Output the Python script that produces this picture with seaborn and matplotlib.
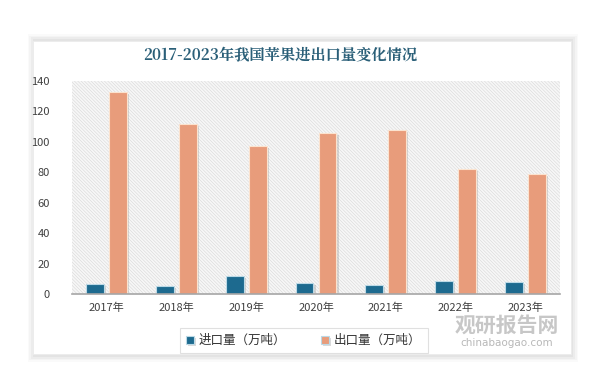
import pandas as pd
import seaborn as sns
import matplotlib.pyplot as plt
from matplotlib.patches import Rectangle
import matplotlib.patheffects as pe

# data
years = ['2017年', '2018年', '2019年', '2020年', '2021年', '2022年', '2023年']
imports = [6.6, 5.5, 12.0, 7.0, 6.2, 8.8, 7.7]
exports = [133, 112, 97.5, 106, 108, 82, 79]
series_names = ['进口量（万吨）', '出口量（万吨）']
y_ticks = [0, 20, 40, 60, 80, 100, 120, 140]

sns.set_style('white')
plt.rcParams['font.family'] = ['Noto Sans CJK SC', 'DejaVu Sans']
plt.rcParams['hatch.linewidth'] = 0.45

df = pd.DataFrame({'year': years * 2,
                   'value': imports + exports,
                   'series': [series_names[0]] * len(years) + [series_names[1]] * len(years)})

fig = plt.figure(figsize=(6, 3.87), dpi=100)

# white card with a soft shadow
for i, a in enumerate([0.035, 0.03, 0.025, 0.02]):
    fig.patches.append(Rectangle((33 / 600 - i * 0.003, 1 - 357 / 387 - i * 0.004),
                                 540 / 600 + i * 0.006, 318 / 387 + i * 0.008,
                                 transform=fig.transFigure, facecolor='#000000', alpha=a,
                                 edgecolor='none', zorder=0))
fig.patches.append(Rectangle((33 / 600, 1 - 354 / 387), 538 / 600, 313 / 387,
                             transform=fig.transFigure, facecolor='white', edgecolor='#ececec',
                             linewidth=0.6, zorder=1))

ax = fig.add_axes([72 / 600, 1 - 294 / 387, 488 / 600, 213 / 387])
ax.set_facecolor('none')
ax.set_zorder(2)

palette = {series_names[0]: '#1d6a8f', series_names[1]: '#e89c7b'}
sns.barplot(data=df, x='year', y='value', hue='series', palette=palette, ax=ax,
            width=0.66, gap=0.22, saturation=1, legend=True, zorder=3)

for bar in ax.patches:
    if bar.get_height() > 50:
        bar.set_edgecolor('#fbe3cf')
    else:
        bar.set_edgecolor('#bcd9e6')
    bar.set_linewidth(0.8)
    bar.set_path_effects([pe.SimplePatchShadow(offset=(1.5, -1.5), shadow_rgbFace='#999999', alpha=0.35),
                          pe.Normal()])

# hatched plot background
ax.add_patch(Rectangle((0, 0), 1, 1, transform=ax.transAxes, facecolor='#f7f7f7',
                       hatch='\\\\\\\\\\\\\\\\\\\\', edgecolor='#dadada', linewidth=0, zorder=0))

ax.set_ylim(0, 140)
ax.set_yticks(y_ticks)
ax.set_xlim(-0.5, len(years) - 0.5)
ax.set_xlabel('')
ax.set_ylabel('')
for s in ['top', 'right', 'left']:
    ax.spines[s].set_visible(False)
ax.spines['bottom'].set_color('#a6a6a6')
ax.spines['bottom'].set_linewidth(1.2)
ax.spines['bottom'].set_zorder(4)
ax.tick_params(axis='both', length=0, labelsize=8, colors='#404040', pad=6)
ax.tick_params(axis='y', pad=16)

leg = ax.legend(loc='upper center', bbox_to_anchor=(0.475, -0.13), ncol=2, frameon=True,
                fontsize=9, handlelength=0.6, handleheight=0.6, handletextpad=0.4,
                columnspacing=2.8, borderpad=0.5, fancybox=False)
leg.get_frame().set_edgecolor('#d9d9d9')
leg.get_frame().set_linewidth(0.8)
for t in leg.get_texts():
    t.set_color('#333333')

fig.text(0.467, 1 - 56 / 387, '2017-2023年我国苹果进出口量变化情况', ha='center', va='center',
         fontsize=11, fontweight='bold', color='#2a5f78',
         family=['Noto Serif CJK SC', 'Noto Sans CJK SC', 'DejaVu Serif'])

# watermark
fig.text(0.845, 1 - 325 / 387, '观研报告网', ha='center', va='center', fontsize=15,
         fontweight='bold', color='#9a9a9a', alpha=0.55, zorder=5)
fig.text(0.845, 1 - 343 / 387, 'chinabaogao.com', ha='center', va='center', fontsize=7.5,
         color='#9a9a9a', alpha=0.7, zorder=5, family=['DejaVu Sans'])

fig.savefig('out.png', dpi=100)
